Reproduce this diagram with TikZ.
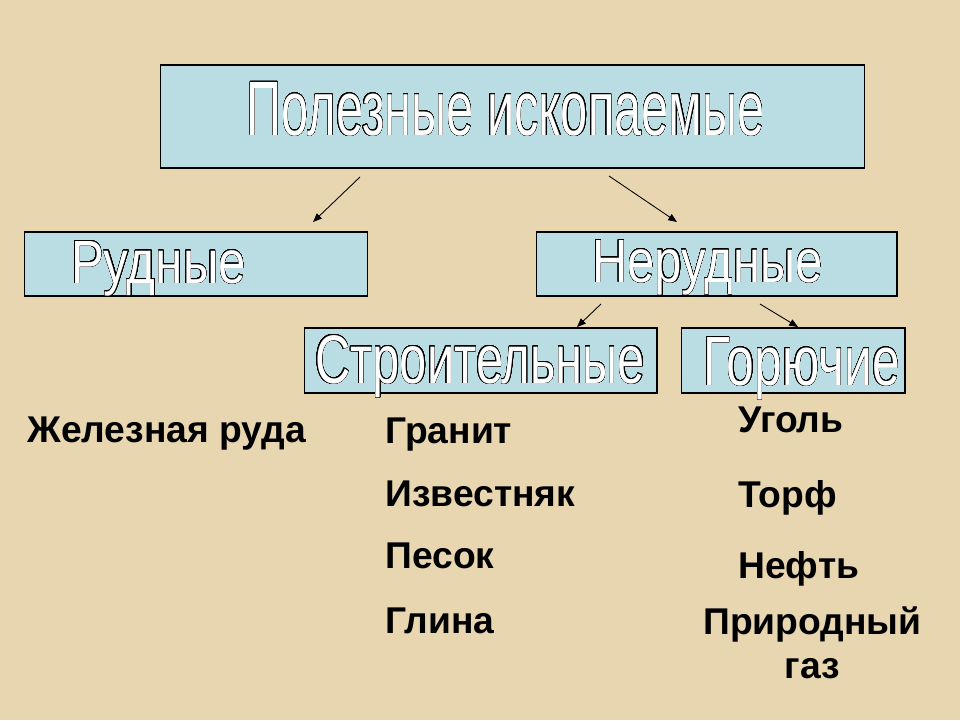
\documentclass[tikz,border=0pt]{standalone}
\usepackage{fontspec}
\setmainfont{Liberation Sans}
\usepackage{graphicx}
\usepackage{contour}
\contourlength{0.25pt}
\contournumber{32}
\usetikzlibrary{arrows.meta}
\definecolor{paper}{RGB}{232,214,176}
\definecolor{boxblue}{RGB}{185,221,226}
\newcommand{\hollow}[3]{\resizebox{#1}{#2}{\fontsize{36}{40}\selectfont\color{white}\contour{black}{#3}}}
\tikzset{
    box/.style={draw=black, fill=boxblue, line width=0.6pt, inner sep=0pt},
    boxlabel/.style={inner sep=0pt, anchor=base},
    item/.style={inner sep=0pt, anchor=base west, font=\fontsize{21.2}{24.5}\selectfont\bfseries},
    arr/.style={line width=0.5pt, -{Triangle[length=5pt,width=4pt]}}
}

\begin{document}
\begin{tikzpicture}[x=0.02cm, y=-0.02cm]
			\fill[paper] (0,0) rectangle (960,720);
			\useasboundingbox (0,0) rectangle (960,720);
			\node[box, minimum width=14.1cm, minimum height=2.06cm] (top) at (512.5,116.5) {};
			\node[box, minimum width=6.88cm, minimum height=1.28cm] (ore) at (196,264) {};
			\node[box, minimum width=7.22cm, minimum height=1.28cm] (nonOre) at (716.5,264) {};
			\node[box, minimum width=7.06cm, minimum height=1.3cm] (build) at (480.5,360.5) {};
			\node[box, minimum width=4.48cm, minimum height=1.3cm] (fuel) at (793,360.5) {};
			\node[boxlabel] (topText) at (505.5,135) {\hollow{295pt}{30.2pt}{Полезные ископаемые}};
			\node[boxlabel] (oreText) at (158.5,283) {\hollow{99.6pt}{23.9pt}{Рудные}};
			\node[boxlabel] (nonOreText) at (707.5,282) {\hollow{131.4pt}{23.9pt}{Нерудные}};
			\node[boxlabel] (buildText) at (480,383) {\hollow{187.8pt}{27.3pt}{Строительные}};
			\node[boxlabel] (fuelText) at (801.5,385) {\hollow{112pt}{27.3pt}{Горючие}};
			\coordinate (topL) at (360,177);
			\coordinate (topR) at (609,176);
			\coordinate (oreTip) at (313,222);
			\coordinate (nonOreTip) at (677,222);
			\coordinate (nonOreL) at (601,304);
			\coordinate (nonOreR) at (760,304);
			\coordinate (buildTip) at (577,327);
			\coordinate (fuelTip) at (798,327);
			\draw[arr] (topL) -- (oreTip);
			\draw[arr] (topR) -- (nonOreTip);
			\draw[arr] (nonOreL) -- (buildTip);
			\draw[arr] (nonOreR) -- (fuelTip);
			\node[item] (iron) at (27,442) {Железная руда};
			\node[item] (granite) at (385,443) {Гранит};
			\node[item] (limestone) at (385,506) {Известняк};
			\node[item] (sand) at (385,568) {Песок};
			\node[item] (clay) at (385,633) {Глина};
			\node[item] (coal) at (738,432) {Уголь};
			\node[item] (peat) at (738,507) {Торф};
			\node[item] (oil) at (738,578) {Нефть};
			\node[item, anchor=base, align=center] (gas) at (812.5,678) {Природный\\газ};
	\end{tikzpicture}
\end{document}
